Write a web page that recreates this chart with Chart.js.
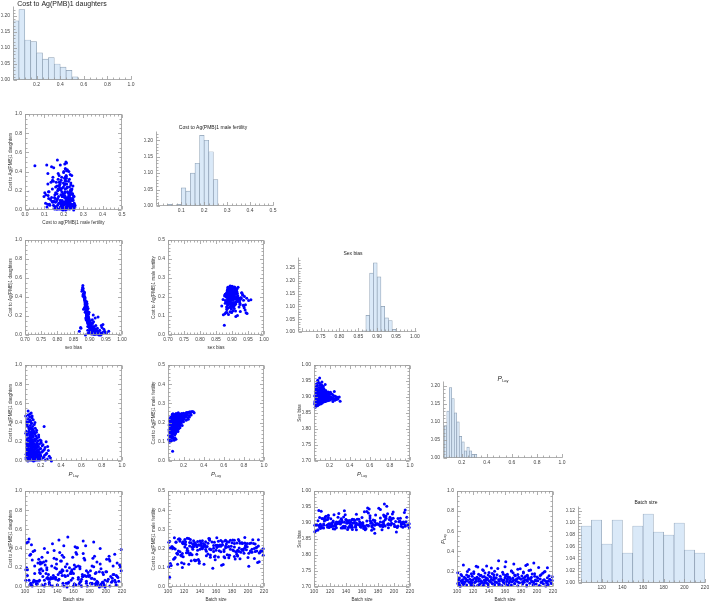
<!DOCTYPE html>
<html>
<head>
<meta charset="utf-8">
<script src="https://cdn.jsdelivr.net/npm/chart.js@4.4.0/dist/chart.umd.min.js"></script>
<style>
  html, body { margin: 0; padding: 0; background: #fff; }
  #wrap { position: relative; width: 709px; height: 603px; overflow: hidden; }
  #wrap canvas { position: absolute; left: 0; top: 0; }
</style>
</head>
<body>
<div id="wrap"></div>
<script>
// ---- samples (one entry per simulation run) ----
const p_lay = [
  0.052,0.055,0.058,0.060,0.061,0.063,0.064,0.066,0.067,0.068,0.069,0.062,0.057,
  0.071,0.072,0.073,0.074,0.075,0.076,0.077,0.078,0.079,0.080,0.081,0.082,0.083,0.084,0.085,0.086,0.087,0.088,0.089,0.074,
  0.091,0.091,0.092,0.093,0.093,0.094,0.095,0.095,0.096,0.097,0.097,0.098,0.099,0.100,0.100,0.101,0.102,0.102,0.103,0.104,0.104,0.105,0.106,0.106,0.107,0.108,0.108,0.109,0.110,
  0.111,0.111,0.112,0.113,0.114,0.114,0.115,0.116,0.117,0.117,0.118,0.119,0.120,0.120,0.121,0.122,0.123,0.123,0.124,0.125,0.126,0.126,0.127,0.128,0.129,
  0.131,0.132,0.133,0.134,0.135,0.136,0.137,0.138,0.139,0.140,0.141,0.142,0.143,0.144,0.145,0.146,0.147,0.148,0.149,
  0.151,0.152,0.153,0.155,0.156,0.157,0.158,0.160,0.161,0.162,0.164,0.165,0.166,0.168,0.169,
  0.171,0.173,0.175,0.177,0.179,0.181,0.184,0.186,0.188,
  0.192,0.194,0.197,0.199,0.202,0.205,0.208,
  0.214,0.218,0.226,
  0.233,0.238,0.243,0.247,
  0.253,0.258,0.264,
  0.275,0.284,
  0.305,
  0.053,0.056,0.059,0.062,0.065,0.068,0.070,
  0.071,0.073,0.075,0.077,0.079,0.081,0.083,0.085,0.087,0.089,
  0.090,0.091,0.092,0.094,0.095,0.096,0.098,0.099,0.101,0.102,0.103,0.105,0.106,0.107,0.108,0.110,
  0.111,0.112,0.114,0.115,0.117,0.118,0.120,0.121,0.123,0.124,0.126,0.127,0.129,
  0.131,0.133,0.135,0.137,0.139,0.141,0.143,0.145,0.147,0.149,
  0.151,0.154,0.157,0.159,0.162,0.165,0.167,0.169,
  0.172,0.176,0.180,0.184,0.189,
  0.193,0.198,0.203,0.209,
  0.216,0.222,0.229,0.236,0.251,0.268,0.296
];
const cost_male = [
  0.112,0.163,0.208,0.098,0.187,0.141,0.221,0.118,0.176,0.195,0.131,0.118,0.152,
  0.148,0.216,0.124,0.189,0.161,0.167,0.201,0.137,0.213,0.106,0.226,0.181,0.158,0.219,0.192,0.128,0.204,0.243,0.172,0.209,
  0.051,0.197,0.158,0.146,0.184,0.214,0.246,0.178,0.117,0.205,0.233,0.163,0.193,0.139,0.218,0.186,0.168,0.155,0.207,0.174,0.236,0.196,0.108,0.211,0.183,0.229,0.168,0.202,0.199,
  0.188,0.215,0.152,0.137,0.194,0.121,0.162,0.171,0.203,0.244,0.185,0.143,0.212,0.191,0.231,0.165,0.147,0.199,0.113,0.182,0.248,0.208,0.176,0.234,0.195,
  0.221,0.186,0.243,0.205,0.157,0.171,0.213,0.192,0.178,0.239,0.217,0.198,0.166,0.154,0.209,0.189,0.251,0.183,0.219,
  0.212,0.236,0.194,0.245,0.203,0.224,0.181,0.231,0.206,0.188,0.173,0.218,0.197,0.228,0.211,
  0.214,0.238,0.196,0.229,0.207,0.227,0.221,0.185,0.233,
  0.216,0.208,0.225,0.204,0.236,0.219,0.228,
  0.231,0.249,0.212,
  0.241,0.226,0.253,0.218,
  0.237,0.229,0.256,
  0.239,0.258,
  0.251,
  0.134,0.187,0.102,0.214,0.161,0.122,0.198,
  0.176,0.229,0.119,0.205,0.153,0.184,0.217,0.142,0.193,0.236,
  0.181,0.126,0.208,0.165,0.222,0.190,0.144,0.212,0.177,0.231,0.159,0.200,0.185,0.227,0.171,0.194,
  0.209,0.149,0.225,0.182,0.196,0.238,0.168,0.213,0.189,0.232,0.156,0.203,0.220,
  0.197,0.234,0.176,0.211,0.242,0.187,0.226,0.203,0.165,0.230,
  0.216,0.238,0.192,0.229,0.207,0.244,0.221,0.199,
  0.233,0.218,0.247,0.226,0.239,
  0.224,0.249,0.236,0.228,
  0.241,0.235,0.252,0.246,0.254,0.248,0.257
];
const cost_daughters = [
  0.47,0.02,0.31,0.14,0.08,0.22,0.05,0.38,0.01,0.17,0.11,0.27,0.04,
  0.44,0.03,0.19,0.09,0.29,0.52,0.06,0.13,0.35,0.07,0.16,0.02,0.24,0.41,0.10,0.05,0.33,0.12,0.21,0.00,
  0.46,0.08,0.18,0.30,0.03,0.49,0.11,0.26,0.06,0.15,0.37,0.01,0.23,0.09,0.42,0.04,0.20,0.12,0.34,0.07,0.28,0.02,0.16,0.50,0.10,0.24,0.05,0.14,0.39,
  0.06,0.27,0.13,0.45,0.02,0.19,0.09,0.32,0.04,0.17,0.22,0.08,0.36,0.01,0.12,0.25,0.05,0.15,0.03,0.29,0.10,0.43,0.07,0.20,0.00,
  0.11,0.31,0.04,0.18,0.08,0.38,0.02,0.14,0.23,0.06,0.12,0.28,0.01,0.16,0.09,0.34,0.03,0.21,0.07,
  0.13,0.26,0.05,0.17,0.02,0.30,0.10,0.08,0.19,0.04,0.14,0.24,0.01,0.11,0.06,
  0.09,0.21,0.03,0.15,0.27,0.05,0.12,0.01,0.18,
  0.07,0.22,0.02,0.13,0.04,0.19,0.09,
  0.16,0.03,0.11,
  0.36,0.06,0.14,0.01,
  0.20,0.08,0.02,
  0.11,0.05,
  0.00,
  0.29,0.07,0.18,0.41,0.03,0.12,0.24,
  0.36,0.05,0.15,0.48,0.01,0.21,0.09,0.31,0.04,0.17,
  0.27,0.06,0.43,0.11,0.02,0.19,0.34,0.08,0.25,0.13,0.03,0.40,0.16,0.07,0.22,0.01,
  0.30,0.09,0.14,0.47,0.04,0.20,0.12,0.33,0.06,0.18,0.02,0.26,0.10,
  0.15,0.05,0.29,0.12,0.22,0.03,0.40,0.08,0.17,0.01,
  0.23,0.06,0.14,0.32,0.03,0.11,0.18,0.07,
  0.16,0.04,0.25,0.09,0.02,
  0.13,0.06,0.21,0.03,
  0.10,0.17,0.04,0.12,0.07,0.15,0.03
];
const sex_bias = [
  0.878,0.905,0.889,0.912,0.872,0.897,0.931,0.884,0.918,0.893,0.941,0.881,0.868,
  0.883,0.901,0.926,0.894,0.887,0.879,0.915,0.898,0.891,0.873,0.908,0.952,0.886,0.882,0.919,0.903,0.892,0.896,0.911,0.934,
  0.876,0.899,0.888,0.893,0.921,0.880,0.904,0.890,0.944,0.897,0.885,0.912,0.894,0.907,0.883,0.959,0.891,0.900,0.887,0.924,0.895,0.909,0.889,0.878,0.936,0.898,0.902,0.893,0.886,
  0.914,0.892,0.905,0.884,0.928,0.896,0.899,0.888,0.917,0.894,0.890,0.938,0.886,0.906,0.897,0.893,0.922,0.901,0.947,0.889,0.903,0.881,0.913,0.895,0.929,
  0.900,0.887,0.916,0.894,0.908,0.884,0.933,0.898,0.891,0.910,0.902,0.890,0.925,0.896,0.905,0.886,0.919,0.893,0.907,
  0.899,0.889,0.912,0.895,0.939,0.887,0.904,0.900,0.892,0.920,0.897,0.890,0.914,0.901,0.908,
  0.898,0.891,0.911,0.896,0.888,0.906,0.902,0.916,0.893,
  0.904,0.890,0.913,0.897,0.909,0.892,0.900,
  0.895,0.910,0.898,
  0.886,0.905,0.893,0.917,
  0.890,0.902,0.896,
  0.899,0.894,
  0.887,
  0.884,0.902,0.917,0.879,0.925,0.894,0.889,
  0.885,0.908,0.899,0.877,0.937,0.892,0.913,0.887,0.946,0.896,
  0.891,0.911,0.880,0.903,0.930,0.895,0.886,0.906,0.890,0.899,0.942,0.882,0.897,0.915,0.893,0.923,
  0.888,0.904,0.898,0.879,0.927,0.894,0.909,0.887,0.918,0.896,0.935,0.891,0.902,
  0.897,0.914,0.889,0.900,0.893,0.926,0.885,0.906,0.898,0.912,
  0.892,0.910,0.897,0.886,0.918,0.901,0.894,0.907,
  0.895,0.913,0.889,0.903,0.911,
  0.898,0.906,0.891,0.915,
  0.899,0.893,0.908,0.896,0.902,0.892,0.900
];
const batch_size = [
  104,187,121,156,203,133,168,112,195,147,214,126,176,
  108,161,139,182,117,153,208,129,172,101,144,191,119,165,137,212,106,178,150,199,
  102,131,158,184,115,142,206,123,169,196,110,148,217,135,162,188,127,153,211,118,174,140,201,105,166,193,130,157,219,
  113,145,171,134,198,120,159,186,107,152,209,138,163,124,180,116,190,143,167,204,128,175,111,155,192,
  122,148,183,103,170,136,213,160,125,189,146,109,177,200,132,164,114,185,141,
  197,119,154,181,106,173,215,129,161,188,112,139,205,150,176,
  127,163,194,118,144,207,135,170,101,
  157,183,121,210,147,168,133,
  192,115,179,
  143,202,126,160,
  137,186,108,
  171,196,
  152,
  139,211,118,164,187,103,152,
  128,196,145,172,109,218,134,159,181,122,
  205,117,148,176,131,194,107,166,214,141,183,124,157,199,112,170,
  136,208,119,185,153,102,174,146,216,127,163,189,138,
  178,110,201,149,166,125,193,142,219,134,
  161,115,187,204,130,172,146,105,
  158,197,121,183,140,
  209,113,168,190,
  132,176,151,213,124,188,161
];

// ---- histogram bins (centres) and probabilities ----
const daughterBins = [0.025,0.075,0.125,0.175,0.225,0.275,0.325,0.375,0.425,0.475,0.525];
const daughterFreq = [0.185,0.22,0.125,0.12,0.085,0.065,0.07,0.05,0.04,0.03,0.01];
const maleBins = [0.05,0.07,0.09,0.11,0.13,0.15,0.17,0.19,0.21,0.23,0.25];
const maleFreq = [0.005,0,0.005,0.055,0.045,0.1,0.13,0.215,0.2,0.165,0.08];
const sexBins = [0.865,0.875,0.885,0.895,0.905,0.915,0.925,0.935,0.945,0.955];
const sexFreq = [0.005,0.065,0.23,0.27,0.215,0.1,0.055,0.045,0.01,0.003];
const layBins = [0.07,0.09,0.11,0.13,0.15,0.17,0.19,0.21,0.23,0.25,0.27,0.29,0.31];
const layFreq = [0.09,0.13,0.195,0.165,0.125,0.1,0.06,0.045,0.02,0.03,0.02,0.01,0.01];
const batchBins = [105,115,125,135,145,155,165,175,185,195,205,215];
const batchFreq = [0.095,0.105,0.065,0.105,0.05,0.095,0.115,0.085,0.08,0.1,0.055,0.05];

// ---- tick values ----
const ticksUnit = [0, 0.2, 0.4, 0.6, 0.8, 1.0];
const ticksUnitNoZero = [0.2, 0.4, 0.6, 0.8, 1.0];
const ticksHalf = [0, 0.1, 0.2, 0.3, 0.4, 0.5];
const ticksHalfNoZero = [0.1, 0.2, 0.3, 0.4, 0.5];
const ticksSex = [0.70, 0.75, 0.80, 0.85, 0.90, 0.95, 1.00];
const ticksSexHist = [0.75, 0.80, 0.85, 0.90, 0.95, 1.00];
const ticksBatch = [100, 120, 140, 160, 180, 200, 220];
const ticksBatchHist = [120, 140, 160, 180, 200, 220];
const ticksFreq20 = [0, 0.05, 0.10, 0.15, 0.20];
const ticksFreq25 = [0, 0.05, 0.10, 0.15, 0.20, 0.25];
const ticksFreq12 = [0, 0.02, 0.04, 0.06, 0.08, 0.10, 0.12];

const W = 709, H = 603;
const FONT = "'Liberation Sans', Arial, sans-serif";
const PLAY = "P_Lay";
const LBL_D = "Cost to Ag(PMB)1 daughters";
const LBL_M = "Cost to Ag(PMB)1 male fertility";

// variable name -> samples, axis range, ticks, decimals
const VARS = {
  D: { v: cost_daughters, r: [0, 1.0], t: ticksUnit, d: 1, label: LBL_D },
  M: { v: cost_male, r: [0, 0.5], t: ticksHalf, d: 1, label: LBL_M },
  S: { v: sex_bias, r: [0.7, 1.0], t: ticksSex, d: 2, label: "Sex bias" },
  P: { v: p_lay, r: [0.045, 1.0], t: ticksUnitNoZero, d: 1, label: PLAY },
  B: { v: batch_size, r: [100, 220], t: ticksBatch, d: 0, label: "Batch size" },
};

const COLS = [[25, 122], [168, 264], [314, 410], [457, 553]];
const ROWS = [[114, 210], [240, 335], [365, 461], [491, 587]];

function drawLabel(ctx, text, cx, cy, size, color, rotate) {
  ctx.save();
  ctx.translate(cx, cy);
  if (rotate) ctx.rotate(-Math.PI / 2);
  ctx.fillStyle = color;
  ctx.textBaseline = "middle";
  if (text === PLAY) {
    const main = "italic " + size + "px " + FONT;
    const sub = (size * 0.62).toFixed(2) + "px " + FONT;
    ctx.font = main;
    const w1 = ctx.measureText("P").width;
    ctx.font = sub;
    const w2 = ctx.measureText("Lay").width;
    const x0 = -(w1 + w2) / 2;
    ctx.textAlign = "left";
    ctx.font = main;
    ctx.fillText("P", x0, 0);
    ctx.font = sub;
    ctx.fillText("Lay", x0 + w1 + 0.2, size * 0.32);
  } else {
    ctx.font = size + "px " + FONT;
    ctx.textAlign = "center";
    ctx.fillText(text, 0, 0);
  }
  ctx.restore();
}

function subdivisions(step) {
  const lead = Math.round(step / Math.pow(10, Math.floor(Math.log10(step) + 1e-9)));
  return lead === 2 ? 4 : 5;
}

// inward major + minor tick marks, Mathematica style
function drawTicks(ctx, scale, area, sides) {
  const vals = scale.ticks.map((t) => t.value);
  const step = vals[1] - vals[0];
  const sub = subdivisions(step);
  const minor = step / sub;
  const n0 = Math.ceil(scale.min / minor - 1e-6);
  const n1 = Math.floor(scale.max / minor + 1e-6);
  ctx.beginPath();
  for (let n = n0; n <= n1; n++) {
    const len = ((n % sub) + sub) % sub === 0 ? 3.5 : 2;
    const p = Math.round(scale.getPixelForValue(n * minor)) + 0.5;
    sides.forEach((side) => {
      if (side === "bottom") { ctx.moveTo(p, area.bottom); ctx.lineTo(p, area.bottom - len); }
      if (side === "top") { ctx.moveTo(p, area.top); ctx.lineTo(p, area.top + len); }
      if (side === "left") { ctx.moveTo(area.left, p); ctx.lineTo(area.left + len, p); }
      if (side === "right") { ctx.moveTo(area.right, p); ctx.lineTo(area.right - len, p); }
    });
  }
  ctx.stroke();
}

function makeFramePlugin(spec) {
  return {
    id: "frameTicks",
    afterDraw(chart) {
      const ctx = chart.ctx;
      const a = chart.chartArea;
      const area = {
        left: Math.round(a.left) + 0.5, right: Math.round(a.right) - 0.5,
        top: Math.round(a.top) + 0.5, bottom: Math.round(a.bottom) - 0.5,
      };
      ctx.save();
      ctx.strokeStyle = "#9a9a9a";
      ctx.lineWidth = 0.8;
      if (spec.kind === "hist") {
        ctx.beginPath();
        ctx.moveTo(area.left, area.top - 2);
        ctx.lineTo(area.left, area.bottom);
        ctx.lineTo(area.right + 1, area.bottom);
        ctx.stroke();
        drawTicks(ctx, chart.scales.x, area, ["bottom"]);
        drawTicks(ctx, chart.scales.y, area, ["left"]);
        drawLabel(ctx, spec.title, spec.tx, spec.ty, spec.ts, "#222", false);
      } else {
        ctx.strokeRect(area.left, area.top, area.right - area.left, area.bottom - area.top);
        drawTicks(ctx, chart.scales.x, area, ["bottom", "top"]);
        drawTicks(ctx, chart.scales.y, area, ["left", "right"]);
        const xl = spec.xLabel === PLAY ? 6 : 4.6;
        const yl = spec.yLabel === PLAY ? 6 : 4.6;
        drawLabel(ctx, spec.xLabel, (a.left + a.right) / 2, a.bottom + 13, xl, "#333", false);
        drawLabel(ctx, spec.yLabel, a.left - 14, (a.top + a.bottom) / 2, yl, "#333", true);
      }
      ctx.restore();
    },
  };
}

function axisCfg(range, ticks, dec, size, horizontal) {
  return {
    type: "linear",
    min: range[0],
    max: range[1],
    offset: false,
    grid: { display: false, drawTicks: false, offset: false },
    border: { display: false },
    ticks: {
      font: { size: 5, family: FONT },
      color: "#444",
      padding: horizontal ? 2 : 3,
      autoSkip: false,
      maxRotation: 0,
      minRotation: 0,
      callback: (v) => Number(v).toFixed(dec),
    },
    afterBuildTicks: (s) => { s.ticks = ticks.map((v) => ({ value: v })); },
    afterFit: (s) => {
      if (horizontal) s.height = size; else s.width = size;
      s.paddingLeft = s.paddingRight = s.paddingTop = s.paddingBottom = 0;
    },
  };
}

function buildPanel(spec) {
  const canvas = document.createElement("canvas");
  canvas.width = W;
  canvas.height = H;
  document.getElementById("wrap").appendChild(canvas);

  const [l, t, r, b] = spec.box;
  const YW = Math.min(12, l);
  const XH = 10;
  let dataset;
  if (spec.kind === "hist") {
    dataset = {
      data: spec.centers.map((c, i) => ({ x: c, y: spec.freq[i] })),
      backgroundColor: "rgb(218, 233, 248)",
      borderColor: "rgb(140, 158, 178)",
      borderWidth: 0.7,
      borderSkipped: false,
      barPercentage: 1,
      categoryPercentage: 1,
    };
  } else {
    dataset = {
      data: spec.xs.map((x, i) => ({ x: x, y: spec.ys[i] })),
      pointRadius: 1.5,
      pointBackgroundColor: "#0000ff",
      pointBorderWidth: 0,
      clip: false,
    };
  }

  new Chart(canvas, {
    type: spec.kind === "hist" ? "bar" : "scatter",
    data: { datasets: [dataset] },
    options: {
      responsive: false,
      animation: false,
      events: [],
      devicePixelRatio: 1,
      layout: { padding: { left: l - YW, top: t, right: W - r, bottom: H - b - XH } },
      plugins: { legend: { display: false }, tooltip: { enabled: false } },
      scales: {
        x: axisCfg(spec.xr, spec.xt, spec.xd, XH, true),
        y: axisCfg(spec.yr, spec.yt, spec.yd, YW, false),
      },
    },
    plugins: [makeFramePlugin(spec)],
  });
}

// ---- diagonal histograms ----
const HISTS = [
  { box: [13, 8, 131, 80], xr: [0, 1.0], xt: ticksUnitNoZero, xd: 1, yr: [0, 0.225], yt: ticksFreq20, yd: 2,
    centers: daughterBins, freq: daughterFreq, title: LBL_D, tx: 62, ty: 4, ts: 7 },
  { box: [156, 133, 273, 206], xr: [-0.01, 0.5], xt: ticksHalfNoZero, xd: 1, yr: [0, 0.222], yt: ticksFreq20, yd: 2,
    centers: maleBins, freq: maleFreq, title: LBL_M, tx: 213, ty: 128, ts: 5 },
  { box: [298, 259, 416, 332], xr: [0.69, 1.003], xt: ticksSexHist, xd: 2, yr: [0, 0.285], yt: ticksFreq25, yd: 2,
    centers: sexBins, freq: sexFreq, title: "Sex bias", tx: 353, ty: 254, ts: 5 },
  { box: [443, 383, 562, 458], xr: [0.05, 1.0], xt: ticksUnitNoZero, xd: 1, yr: [0, 0.208], yt: ticksFreq20, yd: 2,
    centers: layBins, freq: layFreq, title: PLAY, tx: 503, ty: 379, ts: 6.5 },
  { box: [578, 508, 705, 583], xr: [97, 220], xt: ticksBatchHist, xd: 0, yr: [0, 0.125], yt: ticksFreq12, yd: 2,
    centers: batchBins, freq: batchFreq, title: "Batch size", tx: 646, ty: 503, ts: 5 },
];
HISTS.forEach((h) => buildPanel(Object.assign({ kind: "hist" }, h)));

// ---- lower-triangle scatter plots: [row, col, x variable, y variable, x label] ----
const PAIRS = [
  [0, 0, "M", "D", "Cost to ag(PMB)1 male fertility"],
  [1, 0, "S", "D", "sex bias"],
  [1, 1, "S", "M", "sex bias"],
  [2, 0, "P", "D", PLAY],
  [2, 1, "P", "M", PLAY],
  [2, 2, "P", "S", PLAY],
  [3, 0, "B", "D", "Batch size"],
  [3, 1, "B", "M", "Batch size"],
  [3, 2, "B", "S", "Batch size"],
  [3, 3, "B", "P", "Batch size"],
];
PAIRS.forEach(([row, col, xv, yv, xLabel]) => {
  const X = VARS[xv], Y = VARS[yv];
  buildPanel({
    kind: "scatter",
    box: [COLS[col][0], ROWS[row][0], COLS[col][1], ROWS[row][1]],
    xs: X.v, ys: Y.v,
    xr: X.r, xt: X.t, xd: X.d,
    yr: Y.r, yt: Y.t, yd: Y.d,
    xLabel: xLabel, yLabel: Y.label,
  });
});
</script>
</body>
</html>
